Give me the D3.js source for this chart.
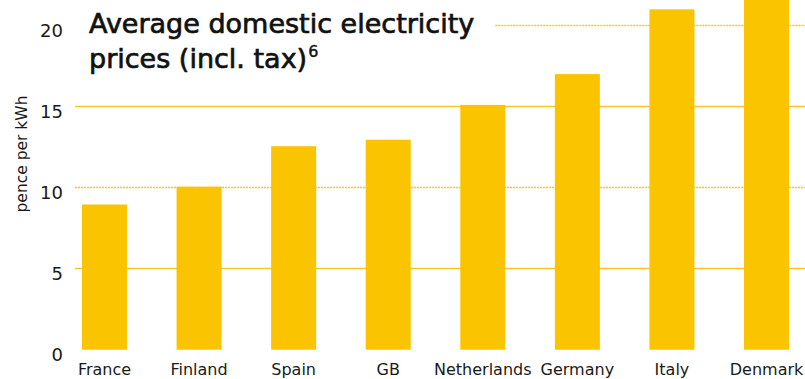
<!DOCTYPE html>
<html>
<head>
	<meta charset="utf-8">
	<script src="https://d3js.org/d3.v7.min.js"></script>
	<title>Average domestic electricity prices</title>
	<style>
		body { margin: 0; background: #fff; }
		text { font-family: "DejaVu Sans", sans-serif; fill: #1a1a1a; }
	</style>
</head>
<body>
	<div id="chart"></div>

	<script type="text/javascript">

		// countries and prices (pence per kWh, incl. tax)
		var countries = ["France", "Finland", "Spain", "GB", "Netherlands", "Germany", "Italy", "Denmark"];
		var prices = [8.9, 10.0, 12.5, 12.9, 15.05, 16.95, 20.95, 22.5];
		var yTicks = [0, 5, 10, 15, 20];
		var dottedTicks = [10, 20];

		var svgwidth = 805;
		var svgheight = 379;
		var barColor = "#fbc400";

		var data = countries.map(function(c, i){
			return {name: c, value: prices[i]};
		});

		var xScale = d3.scaleBand()
						.domain(countries)
						.range([57.2, 813.8])
						.paddingInner(0.524)
						.paddingOuter(0.262);

		var yScale = d3.scaleLinear()
						.domain([0, 20])
						.range([348.7, 24.7]);

		var svg = d3.select("#chart").append("svg")
						.attr("width", svgwidth)
						.attr("height", svgheight);

		// title (a thin stroke gives it the medium weight of the original)
		var title = svg.append("text")
			.attr("x", 89)
			.attr("y", 33)
			.style("font-size", "27px")
			.style("stroke", "#111")
			.style("stroke-width", "0.7px")
			.style("fill", "#111");
		title.append("tspan").attr("x", 89).attr("y", 33).text("Average domestic electricity");
		title.append("tspan").attr("x", 89).attr("y", 68).text("prices (incl. tax)");
		title.append("tspan")
			.attr("dy", -11)
			.attr("dx", 1)
			.style("font-size", "16px")
			.style("stroke-width", "0.4px")
			.text("6");

		var titleRight = 89 + title.node().getBBox().width;

		// gridlines
		svg.selectAll(".grid")
			.data(yTicks.filter(function(t){ return t > 0; }))
			.enter().append("line")
			.attr("class", "grid")
			.attr("x1", function(d){ return d == 20 ? titleRight + 21 : 75; })
			.attr("x2", svgwidth)
			.attr("y1", function(d){ return Math.round(yScale(d)) + 0.5; })
			.attr("y2", function(d){ return Math.round(yScale(d)) + 0.5; })
			.attr("stroke", "#f8c52a")
			.attr("stroke-width", function(d){
				return dottedTicks.indexOf(d) >= 0 ? 1.5 : 1.3;
			})
			.attr("stroke-dasharray", function(d){
				return dottedTicks.indexOf(d) >= 0 ? "2,1" : null;
			});

		// bars
		svg.selectAll(".bar")
			.data(data).enter().append("rect")
			.attr("class", "bar")
			.attr("x", function(d){ return xScale(d.name); })
			.attr("y", function(d){ return yScale(d.value); })
			.attr("width", xScale.bandwidth())
			.attr("height", function(d){ return yScale(0) + 1 - yScale(d.value); })
			.attr("fill", barColor);

		// y tick labels
		svg.selectAll(".ytick")
			.data(yTicks).enter().append("text")
			.attr("class", "ytick")
			.attr("x", 63)
			.attr("y", function(d){ return yScale(d) + 12; })
			.attr("text-anchor", "end")
			.style("font-size", "18px")
			.text(function(d){ return d; });

		// y axis title
		svg.append("text")
			.attr("transform", "translate(27,154) rotate(-90)")
			.attr("text-anchor", "middle")
			.style("font-size", "15.5px")
			.text("pence per kWh");

		// x labels
		svg.selectAll(".xlabel")
			.data(countries).enter().append("text")
			.attr("class", "xlabel")
			.attr("x", function(d){ return xScale(d) + xScale.bandwidth() / 2; })
			.attr("y", 375)
			.attr("text-anchor", "middle")
			.style("font-size", "16px")
			.text(function(d){ return d; });

	</script>
</body>
</html>
